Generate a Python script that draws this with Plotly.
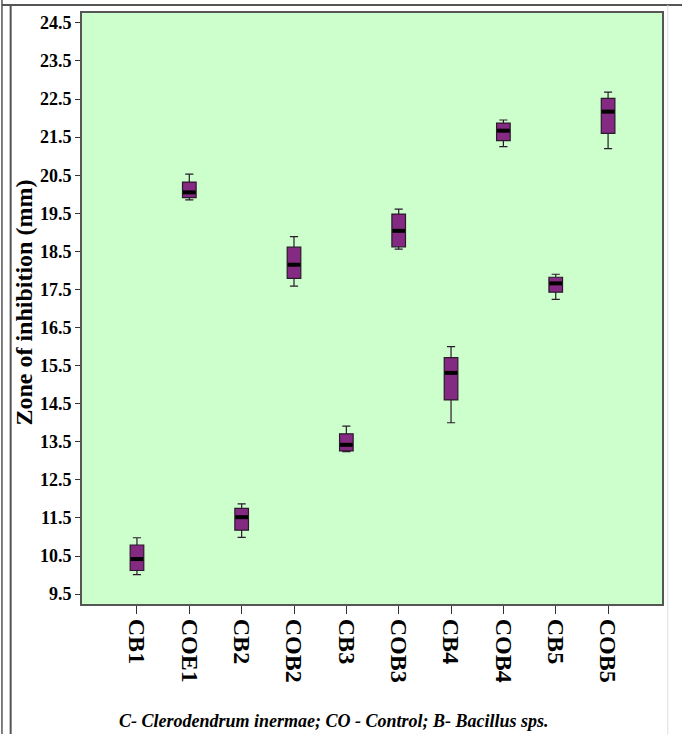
import plotly.graph_objects as go

# Zone of inhibition summary per treatment (mm)
groups = ["CB1", "COE1", "CB2", "COB2", "CB3", "COB3", "CB4", "COB4", "CB5", "COB5"]
minimum = [10.01, 19.85, 10.99, 17.59, 13.24, 18.56, 14.00, 21.25, 17.24, 21.20]
q1 = [10.12, 19.91, 11.18, 17.79, 13.26, 18.62, 14.60, 21.41, 17.43, 21.60]
median = [10.42, 20.05, 11.52, 18.15, 13.42, 19.04, 15.31, 21.67, 17.66, 22.17]
q3 = [10.79, 20.32, 11.75, 18.61, 13.71, 19.48, 15.71, 21.87, 17.82, 22.52]
maximum = [10.98, 20.53, 11.87, 18.89, 13.91, 19.61, 16.00, 21.95, 17.90, 22.68]

y_ticks = [9.5 + i for i in range(16)]

box_w = 0.26
positions = list(range(len(groups)))

fig = go.Figure()

fig.add_trace(go.Box(
    x=positions,
    q1=q1, median=median, q3=q3,
    lowerfence=minimum, upperfence=maximum,
    width=box_w,
    whiskerwidth=0.6,
    fillcolor="#852a83",
    line=dict(color="#2a1a2a", width=1.2),
    boxpoints=False,
    hoverinfo="skip",
    showlegend=False,
))

# Thick median bars across each box
mx, my = [], []
for p, m in zip(positions, median):
    mx += [p - box_w / 2 + 0.01, p + box_w / 2 - 0.01, None]
    my += [m, m, None]
fig.add_trace(go.Scatter(
    x=mx, y=my, mode="lines",
    line=dict(color="black", width=4),
    hoverinfo="skip", showlegend=False,
))

serif = "Liberation Serif, Times New Roman, serif"

fig.update_layout(
    width=682, height=734,
    margin=dict(l=82, r=20, t=13, b=130),
    paper_bgcolor="white",
    plot_bgcolor="#ccffcc",
    font=dict(family=serif, color="black"),
    xaxis=dict(
        range=[-1.05, 10.03],
        tickmode="array", tickvals=positions, ticktext=groups,
        tickangle=90,
        tickfont=dict(family=serif, size=24, color="black", weight="bold"),
        ticks="outside", ticklen=8, tickwidth=1.2, tickcolor="#333",
        showgrid=False, zeroline=False,
        showline=True, linecolor="#555", linewidth=2, mirror=True,
    ),
    yaxis=dict(
        range=[9.24, 24.76],
        tickmode="array", tickvals=y_ticks,
        ticktext=[f"{v:.1f}" for v in y_ticks],
        tickfont=dict(family=serif, size=18, color="black", weight="bold"),
        ticks="outside", ticklen=5, tickwidth=1.2, tickcolor="#333",
        showgrid=False, zeroline=False,
        showline=True, linecolor="#555", linewidth=2, mirror=True,
    ),
    annotations=[
        dict(
            text="<b>Zone of inhibition (mm)</b>",
            xref="paper", yref="paper", x=-0.1, y=0.51,
            xanchor="center", yanchor="middle", textangle=-90, showarrow=False,
            font=dict(family=serif, size=24, color="black"),
        ),
        dict(
            text="<b><i>C- Clerodendrum inermae; CO - Control; B- Bacillus sps.</i></b>",
            xref="paper", yref="paper", x=0.435, y=-0.198,
            xanchor="center", yanchor="middle", showarrow=False,
            font=dict(family=serif, size=18, color="black"),
        ),
    ],
    shapes=[
        dict(type="line", xref="paper", yref="paper", x0=-0.138, x1=1.04,
             y0=1.0137, y1=1.0137, line=dict(color="#555", width=2)),
        dict(type="line", xref="paper", yref="paper", x0=-0.123, x1=-0.123,
             y0=1.0137, y1=-0.23, line=dict(color="#555", width=2)),
        dict(type="line", xref="paper", yref="paper", x0=-0.138, x1=-0.138,
             y0=1.03, y1=-0.23, line=dict(color="#555", width=1.5)),
        dict(type="line", xref="paper", yref="paper", x0=1.01, x1=1.01,
             y0=1.0137, y1=-0.23, line=dict(color="#ddd", width=1)),
    ],
)

fig.write_html("out.html")
